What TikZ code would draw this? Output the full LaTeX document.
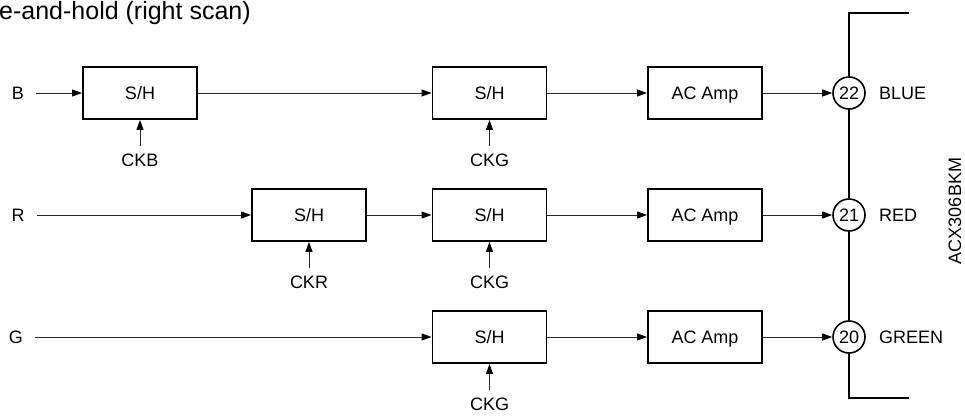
\documentclass[tikz,border=0pt]{standalone}
\usepackage{fontspec}
\setmainfont{Liberation Sans}
\usetikzlibrary{arrows.meta}
\begin{document}
\begin{tikzpicture}[x=1pt,y=-1pt,
  font=\fontsize{18}{20}\selectfont,
  blk/.style={draw,line width=1.9pt,minimum width=114pt,minimum height=52pt,inner sep=0pt,text height=12.9pt,text depth=0pt},
  sig/.style={line width=1pt,draw=black!85,-{Triangle[length=10pt,width=7pt,color=black]}},
  pinc/.style={circle,draw,line width=1.6pt,minimum size=32pt,inner sep=0pt,fill=white,text height=12.9pt,text depth=0pt},
  lbl/.style={inner sep=0pt},
  bus/.style={line width=2.4pt}]
\useasboundingbox (0,0) rectangle (965,415);

\node[lbl,anchor=base west,font=\fontsize{25}{27}\selectfont] (title) at (-1,19.5) {e-and-hold (right scan)};

% Row B
\node[lbl] (B) at (18,93) {B};
\node[blk] (sb1) at (140,93) {S/H};
\node[blk] (sb2) at (489.5,93) {S/H};
\node[blk] (ab) at (705,93) {AC Amp};
\node[lbl] (ckb) at (140,160) {CKB};
\node[lbl] (ckg1) at (489.5,160) {CKG};

% Row R
\node[lbl] (R) at (18,215) {R};
\node[blk] (sr1) at (309,215) {S/H};
\node[blk] (sr2) at (489.5,215) {S/H};
\node[blk] (ar) at (705,215) {AC Amp};
\node[lbl] (ckr) at (309,282) {CKR};
\node[lbl] (ckg2) at (489.5,282) {CKG};

% Row G
\node[lbl] (G) at (16,337) {G};
\node[blk] (sg) at (489.5,337) {S/H};
\node[blk] (ag) at (705,337) {AC Amp};
\node[lbl] (ckg3) at (489.5,404) {CKG};

% Bus and pins
\coordinate (tt) at (849,13);
\coordinate (tr) at (909,13);
\coordinate (bb) at (849,398);
\coordinate (br) at (909,398);
\draw[bus] (tr) -- (tt) -- (849,93);
\draw[bus] (849,93) -- (849,337);
\draw[bus] (849,337) -- (bb) -- (br);
\node[pinc] (p22) at (849,93) {22};
\node[pinc] (p21) at (849,215) {21};
\node[pinc] (p20) at (849,337) {20};
\node[lbl,anchor=west] (blue) at (879,93) {BLUE};
\node[lbl,anchor=west] (red) at (879,215) {RED};
\node[lbl,anchor=west] (green) at (879,337) {GREEN};
\node[lbl,rotate=90] (part) at (955,211) {ACX306BKM};

% Connectors
\draw[sig,shorten <=12pt] (B) -- (sb1);
\draw[sig] (sb1) -- (sb2);
\draw[sig] (sb2) -- (ab);
\draw[sig] (ab) -- (p22);
\draw[sig,shorten <=7pt] (ckb) -- (sb1);
\draw[sig,shorten <=7pt] (ckg1) -- (sb2);

\draw[sig,shorten <=12pt] (R) -- (sr1);
\draw[sig] (sr1) -- (sr2);
\draw[sig] (sr2) -- (ar);
\draw[sig] (ar) -- (p21);
\draw[sig,shorten <=7pt] (ckr) -- (sr1);
\draw[sig,shorten <=7pt] (ckg2) -- (sr2);

\draw[sig,shorten <=12pt] (G) -- (sg);
\draw[sig] (sg) -- (ag);
\draw[sig] (ag) -- (p20);
\draw[sig,shorten <=7pt] (ckg3) -- (sg);
\end{tikzpicture}
\end{document}
